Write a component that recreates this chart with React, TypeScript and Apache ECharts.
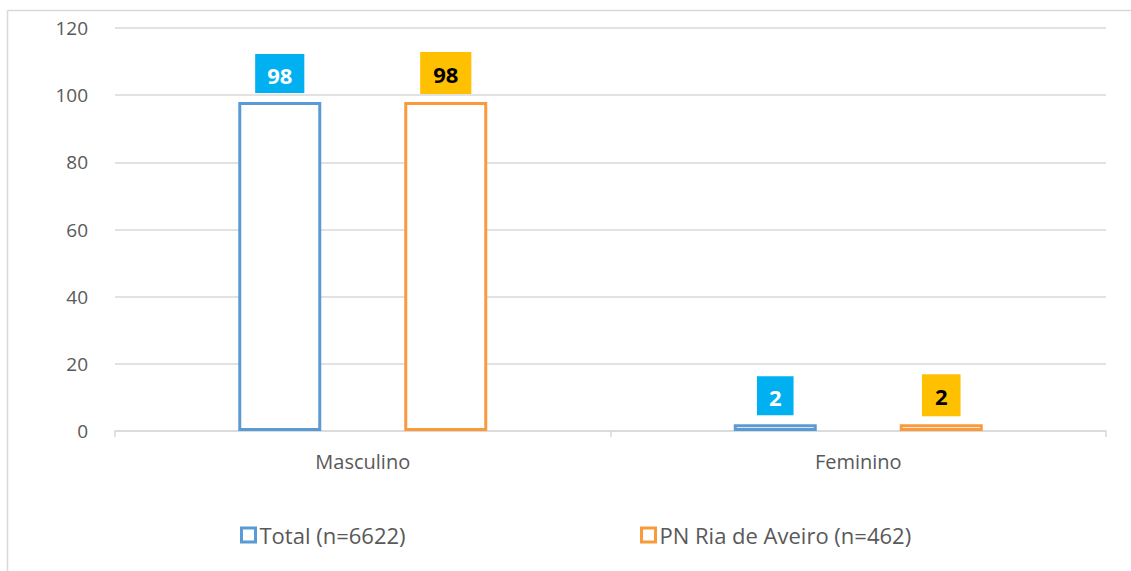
import React, { useEffect, useRef } from "react";
import * as echarts from "echarts";

const categories = ["Masculino", "Feminino"];
const totalValues = [98, 2];
const aveiroValues = [98, 2];
const seriesNames = ["Total (n=6622)", "PN Ria de Aveiro (n=462)"];

const FONT = "'Open Sans', 'Noto Sans', sans-serif";

export default function App() {
  const ref = useRef<HTMLDivElement>(null);
  useEffect(() => {
    const chart = echarts.init(ref.current!, null, { renderer: "svg" });
    chart.setOption({
      animation: false,
      backgroundColor: "#ffffff",
      textStyle: { fontFamily: FONT },
      graphic: [
        { type: "line", shape: { x1: 7.5, y1: 10.5, x2: 1131, y2: 10.5 }, style: { stroke: "#d9d9d9", lineWidth: 1.5 } },
        { type: "line", shape: { x1: 7.5, y1: 10.5, x2: 7.5, y2: 571 }, style: { stroke: "#d9d9d9", lineWidth: 1.5 } },
      ],
      grid: { left: 115, right: 25, top: 28, bottom: 140, containLabel: false },
      legend: [
        {
          data: [seriesNames[0]],
          left: 240,
          top: 524,
          padding: 0,
          icon: "rect",
          itemWidth: 14,
          itemHeight: 14,
          itemStyle: { borderWidth: 3 },
          textStyle: { fontFamily: FONT, fontSize: 22, color: "#595959", padding: [0, 0, 0, -1] },
        },
        {
          data: [seriesNames[1]],
          left: 640,
          top: 524,
          padding: 0,
          icon: "rect",
          itemWidth: 14,
          itemHeight: 14,
          itemStyle: { borderWidth: 3 },
          textStyle: { fontFamily: FONT, fontSize: 22, color: "#595959", padding: [0, 0, 0, -1] },
        },
      ],
      xAxis: {
        type: "category",
        data: categories,
        axisLine: { lineStyle: { color: "#d9d9d9", width: 1.5 } },
        axisTick: { show: true, length: 6, lineStyle: { color: "#d9d9d9", width: 1.5 } },
        axisLabel: { color: "#595959", fontSize: 20, margin: 20, fontFamily: FONT },
      },
      yAxis: {
        type: "value",
        min: 0,
        max: 120,
        interval: 20,
        axisLine: { show: false },
        axisTick: { show: false },
        splitLine: { lineStyle: { color: "#d9d9d9", width: 1.5 } },
        axisLabel: { color: "#595959", fontSize: 19, margin: 27, fontFamily: FONT },
      },
      series: [
        {
          name: seriesNames[0],
          type: "bar",
          data: totalValues,
          barWidth: 83,
          barGap: "100%",
          itemStyle: { color: "#ffffff", borderColor: "#5b9bd5", borderWidth: 3 },
          label: {
            show: true,
            position: "top",
            distance: 9,
            backgroundColor: "#00b0f0",
            color: "#ffffff",
            fontWeight: "bold",
            fontSize: 22,
            fontFamily: FONT,
            padding: [10, 12, 7, 12],
          },
        },
        {
          name: seriesNames[1],
          type: "bar",
          data: aveiroValues,
          barWidth: 83,
          itemStyle: { color: "#ffffff", borderColor: "#f99a3c", borderWidth: 3 },
          label: {
            show: true,
            position: "top",
            distance: 8,
            backgroundColor: "#ffc000",
            color: "#000000",
            fontWeight: "bold",
            fontSize: 22,
            fontFamily: FONT,
            padding: [11, 13, 9, 13],
          },
        },
      ],
    });
    return () => chart.dispose();
  }, []);
  return (
    <div
      ref={ref}
      style={{ position: "absolute", left: 0, top: 0, width: 1131, height: 571 }}
    />
  );
}
